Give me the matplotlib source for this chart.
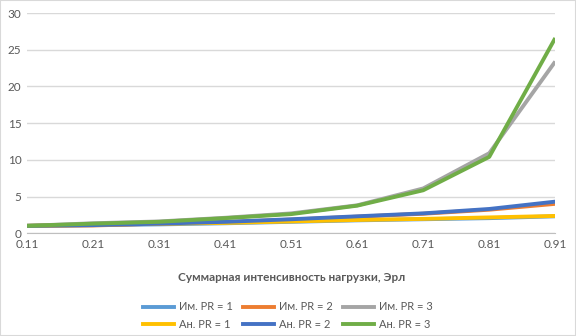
import matplotlib.pyplot as plt
from matplotlib.patches import Rectangle
from matplotlib.lines import Line2D

plt.rcParams['font.family'] = ['Lato', 'DejaVu Sans']

load = ['0.11', '0.21', '0.31', '0.41', '0.51', '0.61', '0.71', '0.81', '0.91']

# simulation (Им.) and analytic (Ан.) results for PR = 1, 2, 3
sim_pr1 = [1.0, 1.1, 1.2, 1.35, 1.55, 1.75, 1.9, 2.05, 2.3]
sim_pr2 = [1.0, 1.05, 1.3, 1.5, 1.85, 2.25, 2.65, 3.2, 4.0]
sim_pr3 = [1.0, 1.35, 1.6, 2.1, 2.7, 3.8, 6.1, 10.9, 23.4]
an_pr1 = [1.0, 1.15, 1.3, 1.4, 1.6, 1.8, 1.95, 2.15, 2.35]
an_pr2 = [1.0, 1.1, 1.3, 1.55, 1.9, 2.3, 2.7, 3.3, 4.3]
an_pr3 = [1.0, 1.3, 1.55, 2.05, 2.6, 3.75, 5.85, 10.4, 26.6]

series = [
    ('Им. PR = 1', sim_pr1, '#5B9BD5'),
    ('Им. PR = 2', sim_pr2, '#ED7D31'),
    ('Им. PR = 3', sim_pr3, '#A5A5A5'),
    ('Ан. PR = 1', an_pr1, '#FFC000'),
    ('Ан. PR = 2', an_pr2, '#4472C4'),
    ('Ан. PR = 3', an_pr3, '#70AD47'),
]

txt = '#595959'

fig = plt.figure(figsize=(5.76, 3.36), dpi=100)
ax = fig.add_axes([0.047, 0.306, 0.917, 0.655])

x = range(len(load))
for name, vals, col in series:
    ax.plot(x, vals, color=col, lw=2.8, label=name, solid_capstyle='butt')

ax.set_xlim(0, len(load) - 1)
ax.set_ylim(0, 30)
ax.set_yticks(range(0, 31, 5))
ax.set_xticks(list(x))
ax.set_xticklabels(load)
ax.grid(axis='y', color='#D9D9D9', lw=1)
ax.set_axisbelow(True)
for s in ['left', 'right', 'top']:
    ax.spines[s].set_visible(False)
ax.spines['bottom'].set_color('#BFBFBF')
ax.tick_params(length=0, labelsize=8.5, colors=txt)
ax.tick_params(axis='x', pad=4)
ax.tick_params(axis='y', pad=4)

ax.set_xlabel('Суммарная интенсивность нагрузки, Эрл', fontsize=8.5,
              fontweight='bold', color=txt, labelpad=16)

# legend fills column by column, so interleave to get two rows of three
order = [0, 3, 1, 4, 2, 5]
handles = [Line2D([], [], color=series[i][2], lw=2.8) for i in order]
labels = [series[i][0] for i in order]
fig.legend(handles, labels, ncol=3, loc='center',
           bbox_to_anchor=(0.5, 0.061), frameon=False, fontsize=8,
           labelcolor=txt, handlelength=2.8, columnspacing=0.9,
           handletextpad=0.45, labelspacing=0.55)

fig.patches.append(Rectangle((0, 0), 1, 1, transform=fig.transFigure,
                             fill=False, edgecolor='#D9D9D9', lw=1.5))

fig.savefig('out.png', dpi=100)
